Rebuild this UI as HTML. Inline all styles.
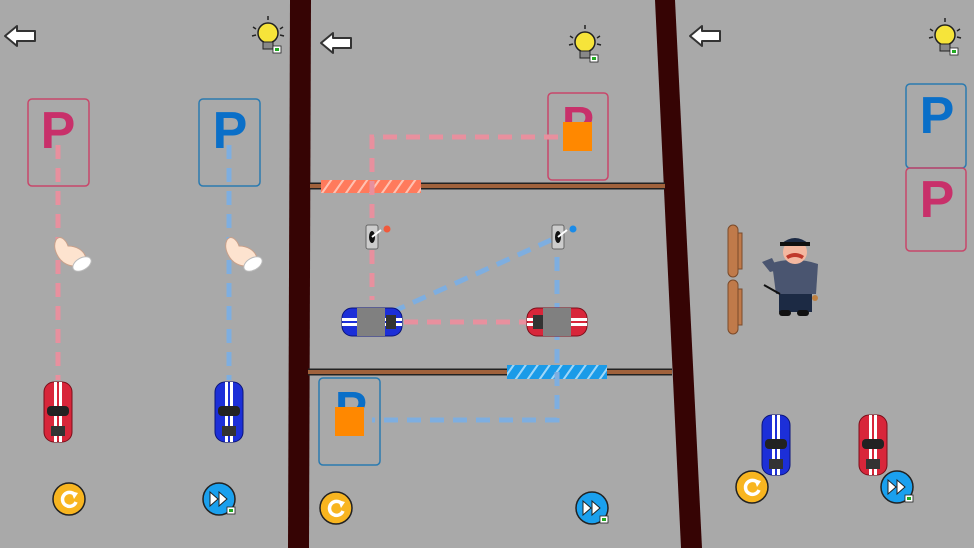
<!DOCTYPE html>
<html><head><style>
html,body{margin:0;padding:0;background:#a9a9a9;}
svg{display:block;}
</style></head><body>
<svg width="974" height="548" viewBox="0 0 974 548" xmlns="http://www.w3.org/2000/svg">
<defs>
<pattern id="hp" width="12" height="14" patternUnits="userSpaceOnUse" patternTransform="skewX(-35)">
<rect width="12" height="14" fill="#ff7a5c"/><rect width="2.5" height="14" fill="#ffc2b2"/></pattern>
<pattern id="hb" width="12" height="14" patternUnits="userSpaceOnUse" patternTransform="skewX(-35)">
<rect width="12" height="14" fill="#1a9be8"/><rect width="2.5" height="14" fill="#9fd6f7"/></pattern>
<g id="carR"><rect x="-14" y="-30" width="28" height="60" rx="10" fill="#d8263a" stroke="#7a0f1a"/>
<rect x="-4" y="-30" width="3" height="60" fill="#fff"/><rect x="1" y="-30" width="3" height="60" fill="#fff"/>
<rect x="-11" y="-6" width="22" height="10" rx="4" fill="#222"/><rect x="-7" y="14" width="14" height="10" fill="#333"/></g>
<g id="carB"><rect x="-14" y="-30" width="28" height="60" rx="10" fill="#1c2fd8" stroke="#0a147a"/>
<rect x="-4" y="-30" width="3" height="60" fill="#fff"/><rect x="1" y="-30" width="3" height="60" fill="#fff"/>
<rect x="-11" y="-6" width="22" height="10" rx="4" fill="#222"/><rect x="-7" y="14" width="14" height="10" fill="#333"/></g>
<g id="btnO"><circle r="16" fill="#f8b520" stroke="#222" stroke-width="1.5"/><path d="M6,-4 A7,7 0 1 0 7,3" fill="none" stroke="#fff" stroke-width="3.5"/><path d="M2,-8 L9,-6 L5,0 Z" fill="#fff"/></g>
<g id="btnB"><circle r="16" fill="#1aa0ee" stroke="#222" stroke-width="1.5"/><path d="M-9,-7 L-1,0 L-9,7Z M0,-7 L8,0 L0,7Z" fill="#fff" stroke="#222"/><rect x="8" y="8" width="8" height="7" fill="#fff" stroke="#222" stroke-width="0.8"/><rect x="10" y="10" width="4" height="3" fill="#2a2"/></g>
<g id="bulb"><circle r="10" fill="#f6e43a" stroke="#222" stroke-width="1.5"/><rect x="-5" y="9" width="10" height="7" fill="#888" stroke="#222"/><g stroke="#222" stroke-width="1.5"><line x1="0" y1="-17" x2="0" y2="-13"/><line x1="-15" y1="-6" x2="-12" y2="-4"/><line x1="15" y1="-6" x2="12" y2="-4"/><line x1="-16" y1="3" x2="-12" y2="2"/><line x1="16" y1="3" x2="12" y2="2"/></g><rect x="5" y="13" width="8" height="7" fill="#fff" stroke="#222" stroke-width="0.8"/><rect x="7" y="15" width="4" height="3" fill="#2a2"/></g>
<g id="back"><path d="M-15,0 L-3,-10 L-3,-5 L15,-5 L15,5 L-3,5 L-3,10 Z" fill="#fff" stroke="#333" stroke-width="2" stroke-linejoin="round"/></g>
<g id="hand"><path d="M-14,-12 C-10,-18 -4,-12 -2,-6 C6,-6 14,-2 16,6 C14,14 4,16 -4,12 C-12,8 -18,-4 -14,-12Z" fill="#fde3cf" stroke="#c9a08a"/><ellipse cx="12" cy="12" rx="10" ry="6" fill="#fff" stroke="#bbb" transform="rotate(-30 12 12)"/></g>
<g id="sw"><rect x="-6" y="-12" width="12" height="24" rx="2" fill="#ccc" stroke="#666"/><ellipse cx="0" cy="0" rx="3" ry="6" fill="#111"/><line x1="0" y1="0" x2="9" y2="-7" stroke="#fff" stroke-width="2"/></g>
</defs>
<rect width="974" height="548" fill="#a9a9a9"/>
<polygon points="290,0 311,0 309,548 288,548" fill="#360404"/>
<polygon points="655,0 675,0 702,548 681,548" fill="#360404"/>

<use href="#back" x="20" y="36"/>
<use href="#bulb" x="268" y="33"/>
<rect x="28" y="99" width="61" height="87" rx="4" fill="none" stroke="#c8476a" stroke-width="1.5"/>
<text x="58" y="148" font-family="Liberation Sans,sans-serif" font-weight="bold" font-size="52" fill="#c8306a" text-anchor="middle">P</text>
<rect x="199" y="99" width="61" height="87" rx="4" fill="none" stroke="#2a7ab0" stroke-width="1.5"/>
<text x="230" y="148" font-family="Liberation Sans,sans-serif" font-weight="bold" font-size="52" fill="#0a6fc8" text-anchor="middle">P</text>
<line x1="58" y1="145" x2="58" y2="380" stroke="#e8909e" stroke-width="5" stroke-dasharray="14,9"/>
<line x1="229" y1="145" x2="229" y2="380" stroke="#7eaee0" stroke-width="5" stroke-dasharray="14,9"/>
<use href="#hand" x="70" y="252"/>
<use href="#hand" x="241" y="252"/>
<use href="#carR" x="58" y="412"/>
<use href="#carB" x="229" y="412"/>
<use href="#btnO" x="69" y="499"/>
<use href="#btnB" x="219" y="499"/>

<use href="#back" x="336" y="43"/>
<use href="#bulb" x="585" y="42"/>
<rect x="548" y="93" width="60" height="87" rx="4" fill="none" stroke="#c8476a" stroke-width="1.5"/>
<text x="578" y="140" font-family="Liberation Sans,sans-serif" font-weight="bold" font-size="48" fill="#c8306a" text-anchor="middle">P</text>
<rect x="563" y="122" width="29" height="29" fill="#ff8800"/>
<line x1="310" y1="186" x2="665" y2="186" stroke="#222" stroke-width="7"/>
<line x1="310" y1="186" x2="665" y2="186" stroke="#a0623c" stroke-width="4"/>
<rect x="321" y="180" width="100" height="13" fill="url(#hp)"/>
<line x1="308" y1="372" x2="672" y2="372" stroke="#222" stroke-width="7"/>
<line x1="308" y1="372" x2="672" y2="372" stroke="#a0623c" stroke-width="4"/>
<rect x="507" y="365" width="100" height="14" fill="url(#hb)"/>
<rect x="319" y="378" width="61" height="87" rx="4" fill="none" stroke="#2a7ab0" stroke-width="1.5"/>
<text x="351" y="425" font-family="Liberation Sans,sans-serif" font-weight="bold" font-size="48" fill="#0a6fc8" text-anchor="middle">P</text>
<rect x="335" y="407" width="29" height="29" fill="#ff8800"/>
<g fill="none" stroke-width="5" stroke-dasharray="14,9">
<path d="M558,137 L372,137 L372,300" stroke="#e8909e"/>
<path d="M404,322 L528,322" stroke="#e8909e"/>
<path d="M392,312 L551,240" stroke="#7eaee0"/>
<path d="M557,257 L557,420 L372,420" stroke="#7eaee0"/>
</g>
<use href="#sw" x="372" y="237"/><circle cx="387" cy="229" r="3.5" fill="#f05a3c"/>
<use href="#sw" x="558" y="237"/><circle cx="573" cy="229" r="3.5" fill="#1a8be8"/>
<use href="#carB" transform="translate(372,322) rotate(-90)"/>
<rect x="357" y="308" width="28" height="28" fill="#808080"/>
<use href="#carR" transform="translate(557,322) rotate(90)"/>
<rect x="543" y="308" width="28" height="28" fill="#808080"/>
<use href="#btnO" x="336" y="508"/>
<use href="#btnB" x="592" y="508"/>

<use href="#back" x="705" y="36"/>
<use href="#bulb" x="945" y="35"/>
<rect x="906" y="84" width="60" height="84" rx="4" fill="none" stroke="#2a7ab0" stroke-width="1.5"/>
<text x="937" y="133" font-family="Liberation Sans,sans-serif" font-weight="bold" font-size="52" fill="#0a6fc8" text-anchor="middle">P</text>
<rect x="906" y="168" width="60" height="83" rx="4" fill="none" stroke="#c8476a" stroke-width="1.5"/>
<text x="937" y="217" font-family="Liberation Sans,sans-serif" font-weight="bold" font-size="52" fill="#c8306a" text-anchor="middle">P</text>
<g fill="#c07a4a" stroke="#7a4a2a">
<rect x="728" y="225" width="10" height="52" rx="5"/><rect x="738" y="233" width="4" height="36"/>
<rect x="728" y="280" width="10" height="54" rx="5"/><rect x="738" y="289" width="4" height="36"/>
</g>
<g>
<rect x="779" y="290" width="33" height="22" fill="#1c2a44"/>
<rect x="779" y="310" width="12" height="6" rx="3" fill="#111"/><rect x="797" y="310" width="12" height="6" rx="3" fill="#111"/>
<path d="M772,263 Q795,256 818,264 L816,294 L776,294 Z" fill="#4a5570"/>
<path d="M762,262 L772,258 L778,270 L770,272Z" fill="#4a5570"/>
<circle cx="795" cy="252" r="12" fill="#f4b8a0"/>
<path d="M781,244 Q795,232 809,244 Z" fill="#1c2a44"/><rect x="780" y="242" width="30" height="4" fill="#111"/>
<path d="M786,256 Q795,250 804,256 L802,259 Q795,255 788,259Z" fill="#c0392b"/>
<circle cx="815" cy="298" r="3" fill="#c08040"/>
<line x1="764" y1="285" x2="780" y2="294" stroke="#111" stroke-width="2"/>
</g>
<use href="#carB" x="776" y="445"/>
<use href="#carR" x="873" y="445"/>
<use href="#btnO" x="752" y="487"/>
<use href="#btnB" x="897" y="487"/>
</svg>
</body></html>
